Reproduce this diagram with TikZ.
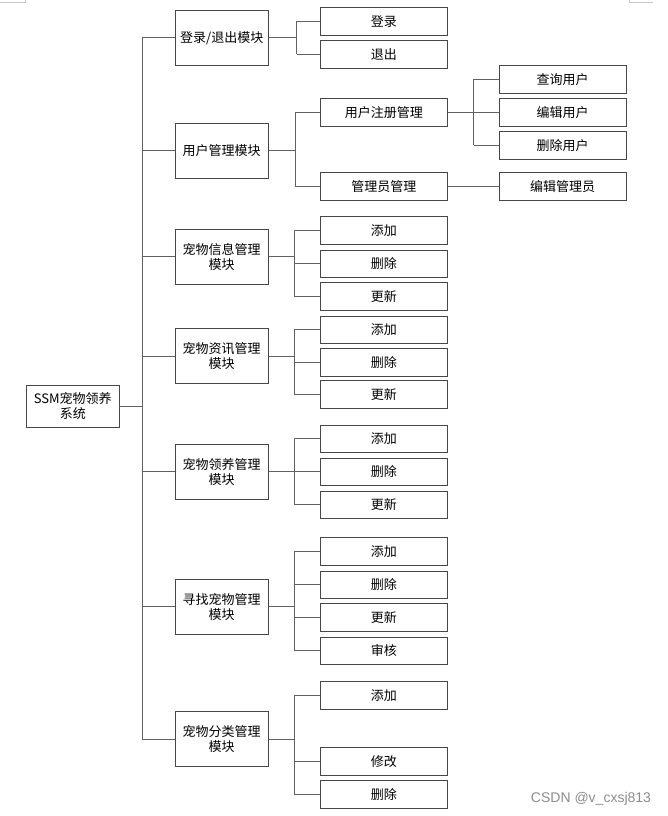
\documentclass[tikz,border=0pt]{standalone}
\usepackage{fontspec}
\setmainfont{Noto Sans CJK SC}
\newfontfamily\wmfont{Liberation Sans}
\begin{document}
\begin{tikzpicture}[x=1pt,y=-1pt,
  box/.style={draw=black!72, line width=0.9pt, inner sep=0pt, align=center,
    font=\fontsize{13}{14.5}\selectfont},
  modbox/.style={box, minimum width=92.7pt, minimum height=55pt},
  leaf/.style={box, minimum width=126.8pt, minimum height=27.7pt},
  conn/.style={draw=black!62, line width=1pt},
  cornermark/.style={draw=black!22, line width=0.6pt}]
\useasboundingbox (0,0) rectangle (667,816);
% page corner marks
\draw[cornermark] (0,2.7) -- (25.3,2.7) -- (25.3,0);
\draw[cornermark] (629.3,0) -- (629.3,2.7) -- (652.7,2.7);
% root
\node[box, minimum width=92.3pt, minimum height=42.3pt] (root) at (72.8,406.2) {SSM宠物领养\\系统};
% modules
\node[modbox] (m1) at (221.7,37.8) {登录/退出模块};
\node[modbox] (m2) at (221.7,150.8) {用户管理模块};
\node[modbox] (m3) at (221.7,256.8) {宠物信息管理\\模块};
\node[modbox] (m4) at (221.7,356) {宠物资讯管理\\模块};
\node[modbox] (m5) at (221.7,471.8) {宠物领养管理\\模块};
\node[modbox] (m6) at (221.7,606.8) {寻找宠物管理\\模块};
\node[modbox] (m7) at (221.7,739) {宠物分类管理\\模块};
% leaves col 2
\node[leaf] (a1) at (383.9,21.2) {登录};
\node[leaf] (a2) at (383.9,54.3) {退出};
\node[leaf] (b1) at (383.9,112.3) {用户注册管理};
\node[leaf] (b2) at (383.9,186.5) {管理员管理};
\node[leaf] (c1) at (383.9,230.5) {添加};
\node[leaf] (c2) at (383.9,263.8) {删除};
\node[leaf] (c3) at (383.9,296.7) {更新};
\node[leaf] (d1) at (383.9,329.8) {添加};
\node[leaf] (d2) at (383.9,362.2) {删除};
\node[leaf] (d3) at (383.9,394.5) {更新};
\node[leaf] (e1) at (383.9,438.8) {添加};
\node[leaf] (e2) at (383.9,471.8) {删除};
\node[leaf] (e3) at (383.9,504.8) {更新};
\node[leaf] (f1) at (383.9,551.5) {添加};
\node[leaf] (f2) at (383.9,584.8) {删除};
\node[leaf] (f3) at (383.9,617.7) {更新};
\node[leaf] (f4) at (383.9,650.8) {审核};
\node[leaf] (g1) at (383.9,695.2) {添加};
\node[leaf] (g2) at (383.9,761.2) {修改};
\node[leaf] (g3) at (383.9,794.2) {删除};
% leaves col 3
\node[leaf] (u1) at (562.7,79.2) {查询用户};
\node[leaf] (u2) at (562.7,112.2) {编辑用户};
\node[leaf] (u3) at (562.7,145.2) {删除用户};
\node[leaf] (v1) at (562.7,186.5) {编辑管理员};
% branch coordinates
\coordinate (T) at (142.3,0);
\coordinate (XA) at (296.5,0);
\coordinate (XB) at (295.3,0);
\coordinate (XC) at (294.3,0);
\coordinate (XU) at (473.7,0);
% trunk
\draw[conn] (root.east) -- (root.east -| T);
\draw[conn] (m1.west -| T) -- (m7.west -| T);
\foreach \m in {m1,m2,m3,m4,m5,m6,m7} \draw[conn] (\m.west -| T) -- (\m.west);
% module 1
\draw[conn] (m1.east) -- (m1.east -| XA);
\draw[conn] (a1.west -| XA) -- (a2.west -| XA);
\foreach \c in {a1,a2} \draw[conn] (\c.west -| XA) -- (\c.west);
% module 2
\draw[conn] (m2.east) -- (m2.east -| XB);
\draw[conn] (b1.west -| XB) -- (b2.west -| XB);
\foreach \c in {b1,b2} \draw[conn] (\c.west -| XB) -- (\c.west);
\draw[conn] (b1.east) -- (b1.east -| XU);
\draw[conn] (u1.west -| XU) -- (u3.west -| XU);
\foreach \c in {u1,u2,u3} \draw[conn] (\c.west -| XU) -- (\c.west);
\draw[conn] (b2.east) -- (v1.west);
% modules 3-7
\draw[conn] (m3.east) -- (m3.east -| XC);
\draw[conn] (c1.west -| XC) -- (c3.west -| XC);
\foreach \c in {c1,c2,c3} \draw[conn] (\c.west -| XC) -- (\c.west);
\draw[conn] (m4.east) -- (m4.east -| XC);
\draw[conn] (d1.west -| XC) -- (d3.west -| XC);
\foreach \c in {d1,d2,d3} \draw[conn] (\c.west -| XC) -- (\c.west);
\draw[conn] (m5.east) -- (m5.east -| XC);
\draw[conn] (e1.west -| XC) -- (e3.west -| XC);
\foreach \c in {e1,e2,e3} \draw[conn] (\c.west -| XC) -- (\c.west);
\draw[conn] (m6.east) -- (m6.east -| XC);
\draw[conn] (f1.west -| XC) -- (f4.west -| XC);
\foreach \c in {f1,f2,f3,f4} \draw[conn] (\c.west -| XC) -- (\c.west);
\draw[conn] (m7.east) -- (m7.east -| XC);
\draw[conn] (g1.west -| XC) -- (g3.west -| XC);
\foreach \c in {g1,g2,g3} \draw[conn] (\c.west -| XC) -- (\c.west);
% watermark
\node[text=black!45, font=\wmfont\fontsize{14}{16}\selectfont, inner sep=0pt] (wm) at (591,799) {CSDN @v\_cxsj813};
\end{tikzpicture}
\end{document}
